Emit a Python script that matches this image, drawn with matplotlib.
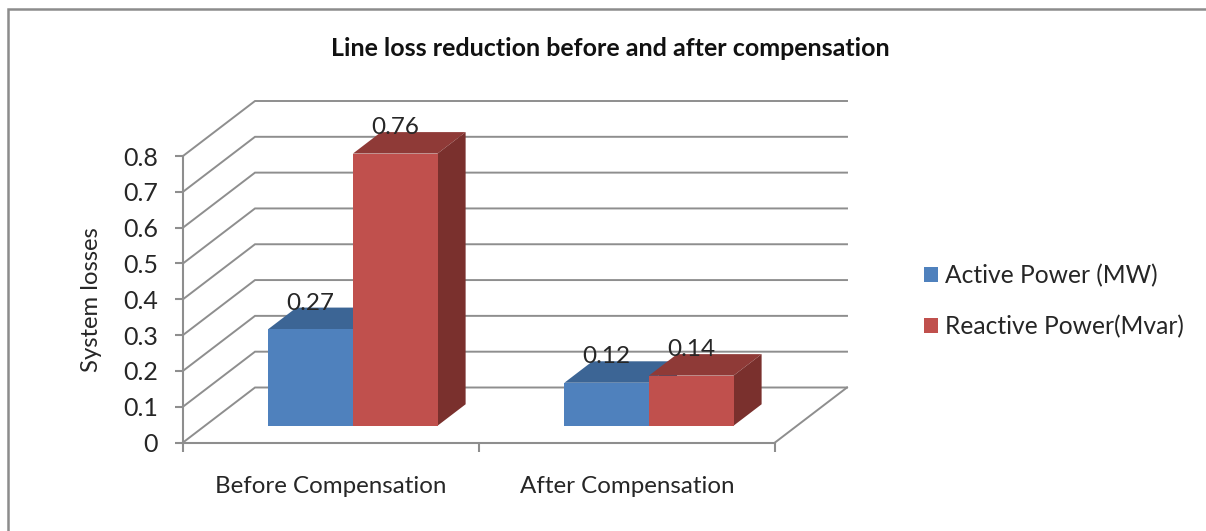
import matplotlib
matplotlib.use("Agg")
import matplotlib.pyplot as plt
from matplotlib.lines import Line2D
from matplotlib.patches import Polygon

categories = ["Before Compensation", "After Compensation"]
series_names = ["Active Power (MW)", "Reactive Power(Mvar)"]
active_power = [0.27, 0.12]
reactive_power = [0.76, 0.14]
y_ticks = [0, 0.1, 0.2, 0.3, 0.4, 0.5, 0.6, 0.7, 0.8]
y_tick_labels = ["0", "0.1", "0.2", "0.3", "0.4", "0.5", "0.6", "0.7", "0.8"]
title = "Line loss reduction before and after compensation"
y_label = "System losses"

W, H = 1206, 531
FONT = "Lato"
GRID = "#8e8e8e"
TXT = "#262626"
front_colors = ["#4F81BD", "#C0504D"]
top_colors = ["#3C6595", "#8F3A37"]
side_colors = ["#335680", "#7A302D"]

fig = plt.figure(figsize=(W / 100, H / 100), dpi=100, facecolor="white")
L, R, B, T = 183, 775, 442.5, 156
ax = fig.add_axes([L / W, 1 - B / H, (R - L) / W, (B - T) / H])
ax.set_xlim(0, len(categories))
ax.set_ylim(0, 0.8)
ax.patch.set_visible(False)

# oblique depth vector in data units
DX = 72 / ((R - L) / len(categories))
DY = 55 / ((B - T) / 0.8)
BAR_D0, BAR_D1 = 0.305, 0.695
bar_w = 1 / 3.5


def proj(x, y, d):
    return (x + d * DX, y + d * DY)


# walls
for v in y_ticks:
    p0, p1, p2 = proj(0, v, 0), proj(0, v, 1), proj(len(categories), v, 1)
    ax.plot([p0[0], p1[0], p2[0]], [p0[1], p1[1], p2[1]], color=GRID, lw=1.4,
            clip_on=False, zorder=1, solid_joinstyle="miter")
fr0, fr1 = proj(len(categories), 0, 0), proj(len(categories), 0, 1)
ax.plot([fr0[0], fr1[0]], [fr0[1], fr1[1]], color=GRID, lw=1.4, clip_on=False, zorder=1)

# bars
bar_handles = []
for s, vals in enumerate([active_power, reactive_power]):
    lefts = [i + 0.5 - bar_w + s * bar_w for i in range(len(categories))]
    x0 = [proj(x, 0, BAR_D0)[0] for x in lefts]
    b0 = proj(0, 0, BAR_D0)[1]
    z = 3 + s
    for x, v in zip(x0, vals):
        dx, dy = (BAR_D1 - BAR_D0) * DX, (BAR_D1 - BAR_D0) * DY
        top = [(x, b0 + v), (x + bar_w, b0 + v), (x + bar_w + dx, b0 + v + dy), (x + dx, b0 + v + dy)]
        side = [(x + bar_w, b0), (x + bar_w + dx, b0 + dy), (x + bar_w + dx, b0 + v + dy), (x + bar_w, b0 + v)]
        ax.add_patch(Polygon(top, fc=top_colors[s], ec="none", zorder=z, clip_on=False))
        ax.add_patch(Polygon(side, fc=side_colors[s], ec="none", zorder=z, clip_on=False))
    cont = ax.bar(x0, vals, width=bar_w, bottom=b0, align="edge", color=front_colors[s],
                  zorder=z + 0.5, clip_on=False, label=series_names[s])
    bar_handles.append(cont)
    for x, v in zip(x0, vals):
        ax.annotate(f"{v:.2f}", (x + bar_w / 2, b0 + v), xytext=(0, 26 * 0.72),
                    textcoords="offset points", ha="center", va="center",
                    fontsize=17.5, family=FONT, color=TXT, zorder=10, annotation_clip=False)

# axes
for sp in ["top", "right"]:
    ax.spines[sp].set_visible(False)
for sp in ["left", "bottom"]:
    ax.spines[sp].set_color(GRID)
    ax.spines[sp].set_linewidth(1.5)
    ax.spines[sp].set_zorder(2)
ax.set_yticks(y_ticks, y_tick_labels, fontsize=18, family=FONT, color=TXT)
ax.tick_params(axis="y", length=6, width=1.5, color=GRID, pad=12)
ax.set_xticks(range(len(categories) + 1), [""] * (len(categories) + 1))
ax.tick_params(axis="x", which="major", length=6.5, width=1.5, color=GRID)
ax.set_xticks([i + 0.5 for i in range(len(categories))], categories, minor=True,
              fontsize=17.4, family=FONT, color=TXT)
ax.tick_params(axis="x", which="minor", length=0, pad=24)
ax.set_ylabel(y_label, fontsize=17.2, family=FONT, color=TXT)
ax.yaxis.set_label_coords(102 / W, 1 - 300 / H, transform=fig.transFigure)

fig.text(610 / W, 1 - 48 / H, title, ha="center", va="center", fontsize=18,
         family=FONT, fontweight="bold", color="#111111")

leg = ax.legend(handles=[b[0] for b in bar_handles], labels=series_names,
                loc="center left", bbox_to_anchor=(924 / W, 1 - 301 / H),
                bbox_transform=fig.transFigure, frameon=False,
                prop={"family": FONT, "size": 17.7}, labelcolor=TXT,
                handlelength=0.58, handleheight=0.58, handletextpad=0.29,
                labelspacing=1.12, borderpad=0, borderaxespad=0)

# outer frame (top and left edges are inside the picture)
fig.add_artist(Line2D([1, 7.5 / W, 7.5 / W], [1 - 8.5 / H, 1 - 8.5 / H, 0],
                      transform=fig.transFigure, color="#8c8c8c", lw=1.8,
                      solid_joinstyle="miter"))

fig.savefig("out.png", dpi=100)
